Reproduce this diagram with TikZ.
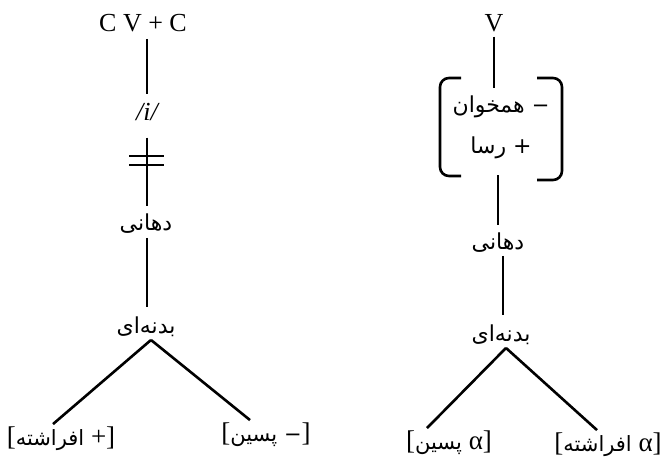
\documentclass[tikz,border=0pt]{standalone}
\usepackage{fontspec}
\setmainfont{Liberation Serif}
\newfontfamily\persianfont[Script=Arabic]{DejaVu Sans}
\TeXXeTstate=1
\usetikzlibrary{calc}
\newcommand{\fa}[1]{{\persianfont\fontsize{21}{24}\selectfont #1}}

\begin{document}
\begin{tikzpicture}[x=1pt, y=-1pt,
  every node/.style={inner sep=0pt, outer sep=0pt},
  latin/.style={font=\fontsize{26}{30}\selectfont},
  farsi/.style={font=\persianfont\fontsize{22}{26}\selectfont},
  feature/.style={font=\fontsize{27}{30}\selectfont},
  branch/.style={line width=2.6pt},
  bracket/.style={line width=2.6pt, rounded corners=9pt}
]
\useasboundingbox (0,0) rectangle (667,466);

% Left tree: CV+C
\node[latin] (cvc) at (143,23) {C V + C};
\node[latin] (vow) at (147,112) {\itshape /i/};
\node[farsi] (dah1) at (146,224) {\beginR دهانی\endR};
\node[farsi] (bad1) at (146,327) {\beginR بدنه‌ای\endR};
\node[feature] (fl1) at (61,439) {[\beginR + \fa{افراشته}\endR]};
\node[feature] (fl2) at (266,435) {[\beginR \fa{−} \fa{پسین}\endR]};

\draw[branch] ([yshift=-7pt]cvc.south -| vow) -- ([yshift=9pt]vow.north);
\draw[branch] ([yshift=-17pt]vow.south) -- ([yshift=8pt]dah1.north -| vow);
\draw[branch] ([yshift=-4pt]dah1.south -| vow) -- ([yshift=10pt]bad1.north -| vow);
% cut link (two bars)
\draw[line width=2pt] ($(vow.south)+(-18,35)$) -- ++(35,0)
                      ($(vow.south)+(-18,44)$) -- ++(35,0);
\draw[branch] ($(bad1.south)+(5,3)$) -- ($(fl1.north)+(-8,-3)$);
\draw[branch] ($(bad1.south)+(5,3)$) -- ($(fl2.north)+(-16,-3)$);

% Right tree: V
\node[latin] (v) at (494,23) {V};
\node[farsi, minimum width=122pt, minimum height=98pt, align=center] (feat) at (501,127)
  {\beginR \fa{−} همخوان\endR\\[15pt]\beginR + رسا\endR};
\node[farsi] (dah2) at (498,243) {\beginR دهانی\endR};
\node[farsi] (bad2) at (501,335) {\beginR بدنه‌ای\endR};
\node[feature] (fl3) at (449,443) {[\beginR α \fa{پسین}\endR]};
\node[feature] (fl4) at (608,445) {[\beginR α \fa{افراشته}\endR]};

% feature brackets
\draw[bracket] ([xshift=21pt]feat.north west) -- (feat.north west) -- (feat.south west) -- ([xshift=21pt]feat.south west);
\draw[bracket] ([xshift=-25pt]feat.north east) -- (feat.north east) -- ([yshift=-4pt]feat.south east) -- ([xshift=-25pt,yshift=-4pt]feat.south east);

\draw[branch] ([yshift=-5pt]v.south) -- ([yshift=-10pt]v.south |- feat.north);
\draw[branch] ([yshift=1pt]feat.south -| dah2) -- ([yshift=8pt]dah2.north);
\draw[branch] ([xshift=5pt,yshift=-3pt]dah2.south) -- ([xshift=5pt,yshift=10pt]dah2.south |- bad2.north);
\draw[branch] ($(bad2.south)+(5,3)$) -- ($(fl3.north)+(-22,-3)$);
\draw[branch] ($(bad2.south)+(5,3)$) -- ($(fl4.north)+(-11,-3)$);

\end{tikzpicture}
\end{document}
